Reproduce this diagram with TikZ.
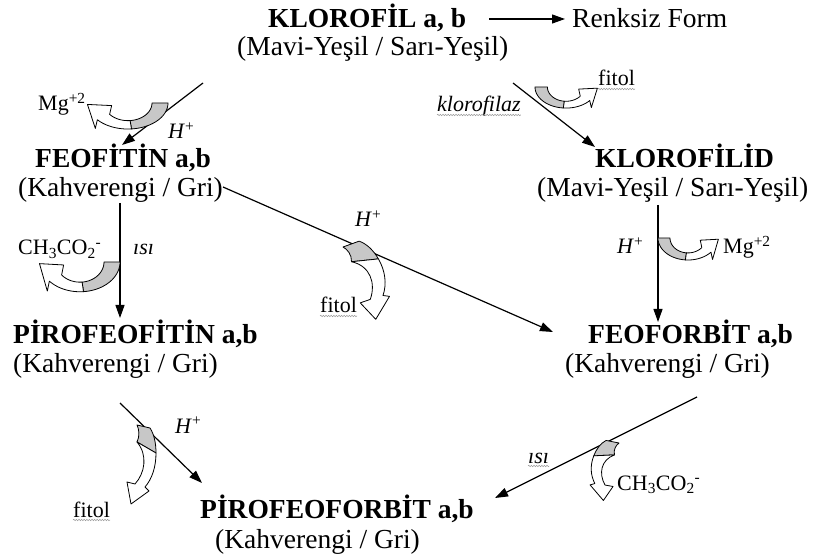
\documentclass[tikz,border=0pt]{standalone}
\usepackage{fontspec}
\setmainfont{Liberation Serif}
\usetikzlibrary{arrows.meta,decorations.pathmorphing}
\tikzset{
  ttl/.style={font=\fontsize{27.5}{30}\selectfont\bfseries, inner sep=0pt, anchor=base west},
  sub/.style={font=\fontsize{27.5}{30}\selectfont, inner sep=0pt, anchor=base west},
  lab/.style={font=\fontsize{22}{24}\selectfont, inner sep=0pt, anchor=base west},
  conn/.style={line width=1.2pt, -{Triangle[length=13pt,width=9pt]}},
  wavy/.style={draw=black!40, line width=0.5pt, decorate, decoration={snake, amplitude=0.7pt, segment length=2.6pt}},
  ribbon/.style={draw=black, line width=0.8pt, line join=round},
  uarrow/.pic={
    \path[ribbon, fill=black!22] plot[domain=0:-85,samples=24,variable=\t] ({cos(\t)},{0.62*sin(\t)}) -- plot[domain=-85:0,samples=24,variable=\t] ({0.6*cos(\t)},{0.42*sin(\t)}) -- cycle;
    \path[ribbon, fill=white] plot[domain=-85:-140,samples=16,variable=\t] ({cos(\t)},{0.62*sin(\t)}) -- (-0.817,-0.606) -- (-1.013,-0.034) -- (-0.409,-0.062) -- plot[domain=-140:-85,samples=16,variable=\t] ({0.6*cos(\t)},{0.42*sin(\t)}) -- cycle;
  },
  carrow/.pic={
    \path[ribbon, fill=black!22] (0,0) -- (13,-3) .. controls (17,-9) and (19,-18) .. (19,-28) -- (0,-17) .. controls (3,-11) and (2,-4) .. (0,0) -- cycle;
    \path[ribbon, fill=white] (0,-17) -- (19,-28) .. controls (19,-42) and (15,-54) .. (8,-62) -- (12,-66) -- (-6,-79) -- (-10,-57) -- (-2,-59) .. controls (8,-48) and (11,-30) .. (0,-17) -- cycle;
  },
}
\begin{document}
\begin{tikzpicture}[x=1pt,y=1pt]
\useasboundingbox (0,0) rectangle (818,557);
% compound names
\node[ttl] (klo) at (268,529) {KLOROFİL a, b};
\node[sub] (klos) at (237,501) {(Mavi-Yeşil / Sarı-Yeşil)};
\node[sub] (renk) at (572,529) {Renksiz Form};
\node[ttl] (feo) at (35,389) {FEOFİTİN a,b};
\node[sub] (feos) at (18,360) {(Kahverengi / Gri)};
\node[ttl] (kld) at (595,389) {KLOROFİLİD};
\node[sub] (klds) at (537,360) {(Mavi-Yeşil / Sarı-Yeşil)};
\node[ttl] (pfe) at (13,214) {PİROFEOFİTİN a,b};
\node[sub] (pfes) at (13,185) {(Kahverengi / Gri)};
\node[ttl] (ffb) at (588,214) {FEOFORBİT a,b};
\node[sub] (ffbs) at (565,185) {(Kahverengi / Gri)};
\node[ttl] (pfb) at (200,39) {PİROFEOFORBİT a,b};
\node[sub] (pfbs) at (215,9) {(Kahverengi / Gri)};
% labels
\node[lab] (mg1) at (38,446) {Mg\textsuperscript{+2}};
\node[lab] (h1) at (168,418) {\textit{H}\textsuperscript{+}};
\node[lab] (klz) at (437,445) {\textit{klorofilaz}};
\node[lab] (fit2) at (598,471) {fitol};
\node[lab] (h4) at (617,303) {\textit{H}\textsuperscript{+}};
\node[lab] (mg4) at (723,303) {Mg\textsuperscript{+2}};
\node[lab] (ch3) at (18,302) {CH\textsubscript{3}CO\textsubscript{2}\textsuperscript{-}};
\node[lab] (isi3) at (133,302) {\textit{ısı}};
\node[lab] (h5) at (355,330) {\textit{H}\textsuperscript{+}};
\node[lab] (fit5) at (320,244) {fitol};
\node[lab] (h6) at (175,124) {\textit{H}\textsuperscript{+}};
\node[lab] (fit6) at (73,40) {fitol};
\node[lab] (isi7) at (528,94) {\textit{ısı}};
\node[lab] (ch7) at (617,67) {CH\textsubscript{3}CO\textsubscript{2}\textsuperscript{-}};
% wavy underlines
\foreach \n in {klz,fit2,fit5,fit6,isi7}
  \draw[wavy] ([yshift=-3pt]\n.base west) -- ([yshift=-3pt]\n.base east);
% arrow end points
\coordinate (t0) at (489,538); \coordinate (t1) at (565,538);
\coordinate (a1s) at (203,474); \coordinate (a1e) at (122,412);
\coordinate (a2s) at (513,474); \coordinate (a2e) at (595,410);
\coordinate (a3s) at (120,354); \coordinate (a3e) at (120,239);
\coordinate (a4s) at (658,352); \coordinate (a4e) at (658,235);
\coordinate (a5s) at (223,370); \coordinate (a5e) at (553,225);
\coordinate (a6s) at (120,154); \coordinate (a6e) at (202,74);
\coordinate (a7s) at (697,160); \coordinate (a7e) at (495,59);
\draw[conn] (t0) -- (t1);
\draw[conn] (a1s) -- (a1e);
\draw[conn] (a2s) -- (a2e);
\draw[conn] (a3s) -- (a3e);
\draw[conn] (a4s) -- (a4e);
\draw[conn] (a5s) -- (a5e);
\draw[conn] (a6s) -- (a6e);
\draw[conn] (a7s) -- (a7e);
% curved side arrows
\pic[shift={(128,454)}, xscale=40, yscale=42] {uarrow};
\pic[shift={(566,470)}, xscale=-31, yscale=34] {uarrow};
\pic[shift={(80,295)}, xscale=40, yscale=48] {uarrow};
\pic[shift={(688,319)}, xscale=-30, yscale=35.5] {uarrow};
\pic[shift={(343,310)}, rotate=30, xscale=1.3] {carrow};
\pic[shift={(137,132)}] {carrow};
\pic[shift={(619,114)}, rotate=-21, xscale=-1, yscale=0.75] {carrow};
\end{tikzpicture}
\end{document}
